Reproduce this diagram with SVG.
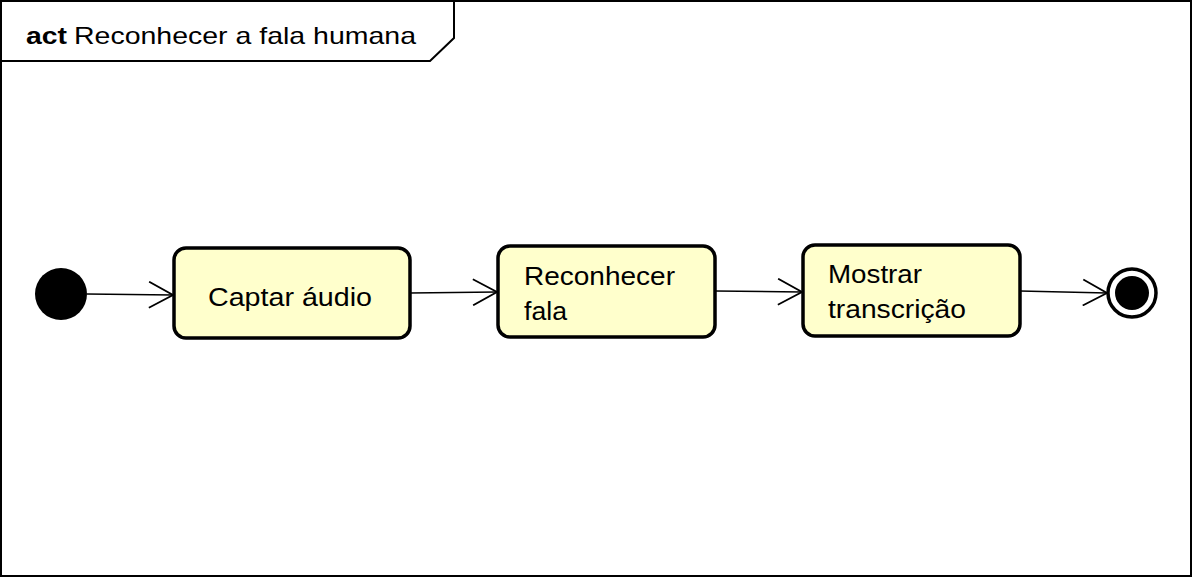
<svg xmlns="http://www.w3.org/2000/svg" width="1193" height="578" viewBox="0 0 1193 578">
<style>
.frame{fill:#ffffff;stroke:#000;stroke-width:2}
.act{fill:#ffffcc;stroke:#000;stroke-width:3.5}
.t{font-family:"Liberation Sans",Arial,sans-serif;font-size:26px;fill:#000}
.tt{font-family:"Liberation Sans",Arial,sans-serif;font-size:24px;fill:#000}
.edge{fill:none;stroke:#000;stroke-width:1.6}
</style>
<defs>
<marker id="open" viewBox="0 0 26 28" markerWidth="26" markerHeight="28" refX="25" refY="14" orient="auto" markerUnits="userSpaceOnUse">
<path d="M1,1 L25,14 L1,27" fill="none" stroke="#000" stroke-width="1.8"/>
</marker>
</defs>
<g id="frame">
<rect class="frame" x="1" y="1" width="1190" height="575"/>
<path d="M1,61 L430,61 L454,38 L454,1" fill="none" stroke="#000" stroke-width="2"/>
<text class="tt" x="26" y="44" font-weight="bold" textLength="41" lengthAdjust="spacingAndGlyphs">act</text>
<text class="tt" x="74" y="44" textLength="342" lengthAdjust="spacingAndGlyphs">Reconhecer a fala humana</text>
</g>
<g id="connectors">
<line class="edge" x1="87" y1="294" x2="173" y2="295" marker-end="url(#open)"/>
<line class="edge" x1="410" y1="293" x2="497" y2="292" marker-end="url(#open)"/>
<line class="edge" x1="715" y1="291" x2="802" y2="292" marker-end="url(#open)"/>
<line class="edge" x1="1020" y1="291" x2="1107" y2="293" marker-end="url(#open)"/>
</g>
<g id="start">
<circle cx="61" cy="294" r="26" fill="#000"/>
</g>
<g id="captar">
<rect class="act" x="174" y="248" width="236" height="90" rx="12" ry="12"/>
<text class="t" x="208" y="305.5" textLength="164" lengthAdjust="spacingAndGlyphs">Captar áudio</text>
</g>
<g id="reconhecer">
<rect class="act" x="498" y="246" width="217" height="91" rx="12" ry="12"/>
<text class="t" x="524" y="285" textLength="151" lengthAdjust="spacingAndGlyphs">Reconhecer</text>
<text class="t" x="524" y="320" textLength="43" lengthAdjust="spacingAndGlyphs">fala</text>
</g>
<g id="mostrar">
<rect class="act" x="803" y="245" width="217" height="91" rx="12" ry="12"/>
<text class="t" x="828" y="282.5" textLength="94" lengthAdjust="spacingAndGlyphs">Mostrar</text>
<text class="t" x="828" y="318" textLength="138" lengthAdjust="spacingAndGlyphs">transcrição</text>
</g>
<g id="end">
<circle cx="1132" cy="293" r="24" fill="#fff" stroke="#000" stroke-width="3.5"/>
<circle cx="1132" cy="293" r="17" fill="#000"/>
</g>
</svg>
